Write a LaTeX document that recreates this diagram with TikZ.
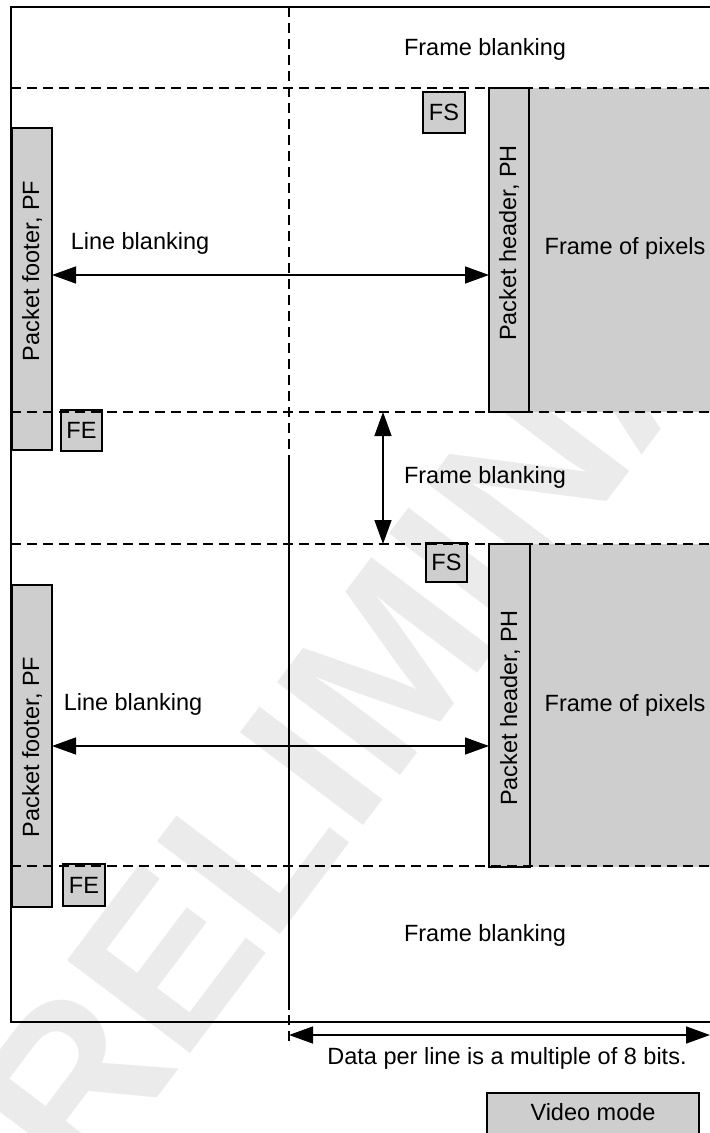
\documentclass[tikz,border=0pt]{standalone}
\usepackage{fontspec}
\setmainfont{Liberation Sans}
\usetikzlibrary{arrows.meta,fit}
\definecolor{boxgray}{RGB}{206,206,206}
\definecolor{wmgray}{RGB}{235,235,235}
\begin{document}
\begin{tikzpicture}[x=0.5pt,y=-0.5pt,
  every node/.style={font=\fontsize{11.75}{14}\selectfont, inner sep=0pt, outer sep=0pt},
  frameline/.style={line width=0.7pt},
  dashline/.style={line width=0.7pt, dash pattern=on 5pt off 3pt},
  graybox/.style={draw, line width=0.8pt, fill=boxgray, inner sep=0pt},
  fillbox/.style={fill=boxgray, inner sep=0pt},
  arr/.style={line width=0.7pt, {Triangle[length=12pt,width=8.5pt]}-{Triangle[length=12pt,width=8.5pt]}},
  vert/.style={rotate=90}]
\useasboundingbox (0,0) rectangle (710,1133);
\clip (0,0) rectangle (710,1133);
% watermark
\node[text=wmgray, font=\bfseries\fontsize{112}{112}\selectfont, rotate=53] (wm) at (395,655) {PRELIMINARY};

% frame of pixels areas
\node[fillbox, fit={(529,88) (725,412)}] (fp1) {};
\node[fillbox, fit={(529,544) (725,867)}] (fp2) {};

% packet headers / footers
\node[graybox, fit={(489,88) (529,412)}] (ph1) {};
\node[graybox, fit={(489,544) (530,867)}] (ph2) {};
\node[graybox, fit={(12,128) (52,450)}] (pf1) {};
\node[graybox, fit={(12,585) (52,907)}] (pf2) {};

% FS / FE boxes
\node[graybox, fit={(423,92) (465,133)}] (fs1) {};
\node[graybox, fit={(426,543) (467,582)}] (fs2) {};
\node[graybox, fit={(61,410) (102,451)}] (fe1) {};
\node[graybox, fit={(63,864) (105,906)}] (fe2) {};

% video mode box
\node[graybox, fit={(487,1093) (699,1145)}] (vm) {};

% horizontal dashed lines
\coordinate (h1) at (11,88);
\coordinate (h2) at (11,412);
\coordinate (h3) at (11,544);
\coordinate (h4) at (11,866);
\foreach \h in {h1,h2,h3,h4}
  \draw[dashline] (\h) -- ++(720,0);

% outer frame
\draw[frameline] (720,7) -- (11,7) -- (11,1022) -- (720,1022);

% vertical divider
\draw[dashline] (289,7) -- (289,1042);
\draw[frameline] (289,455) -- (289,1010);

% texts
\node (fb1) at (485,49) {Frame blanking};
\node (fb2) at (485,477) {Frame blanking};
\node (fb3) at (485,935) {Frame blanking};
\node (lbt1) at (140,243) {Line blanking};
\node (lbt2) at (133,704) {Line blanking};
\node (fpt1) at (625,248) {Frame of pixels};
\node (fpt2) at (625,705) {Frame of pixels};
\node[vert] (pht1) at (509,243) {Packet header, PH};
\node[vert] (pht2) at (510,708) {Packet header, PH};
\node[vert] (pft1) at (32,271) {Packet footer, PF};
\node[vert] (pft2) at (32,747) {Packet footer, PF};
\node at (fs1.center) (fst1) {FS};
\node at (fs2.center) (fst2) {FS};
\node at (fe1.center) (fet1) {FE};
\node at (fe2.center) (fet2) {FE};
\node (dpl) at (507,1058) {Data per line is a multiple of 8 bits.};
\node (vmt) at (593,1112) {Video mode};

% arrows
\coordinate (a1) at (300,275);
\coordinate (a2) at (300,746);
\draw[arr] (pf1.east |- a1) -- (ph1.west |- a1);
\draw[arr] (pf2.east |- a2) -- (ph2.west |- a2);
\coordinate (fbx) at (383,0);
\draw[arr] (fbx |- h2) -- (fbx |- h3);
\coordinate (dL) at (289,1035);
\coordinate (dR) at (710,1035);
\draw[arr] (dL) -- (dR);
\end{tikzpicture}
\end{document}
